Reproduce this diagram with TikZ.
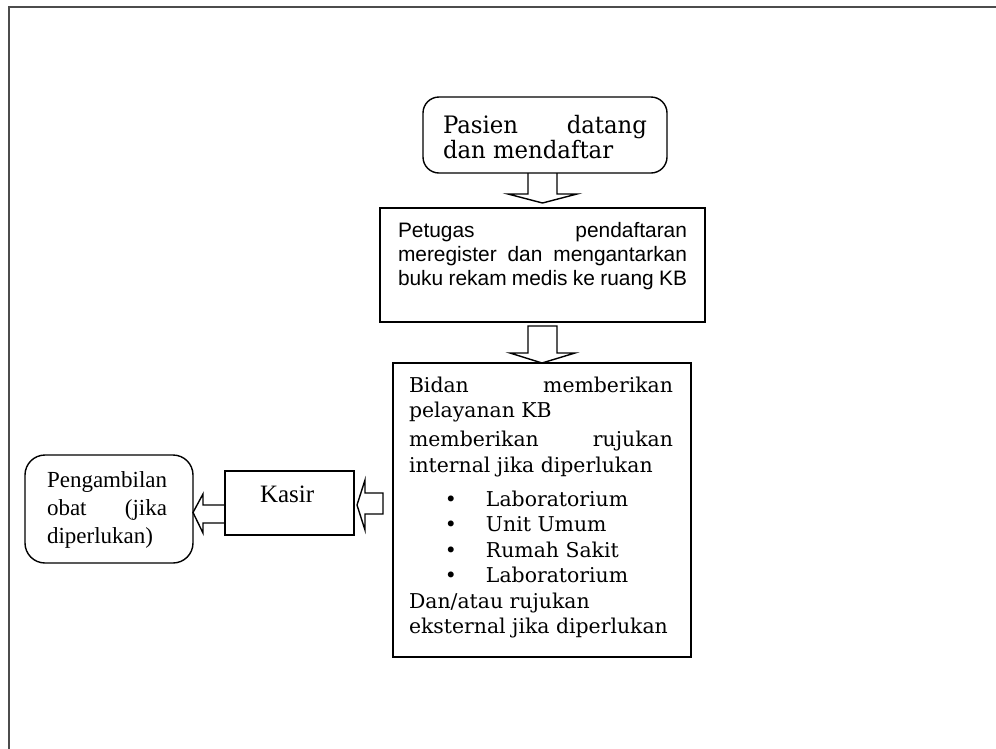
\documentclass[tikz,border=0pt]{standalone}
\usepackage{fontspec}
\setmainfont{Liberation Serif}
\newfontfamily\bookf{DejaVu Serif}
\newfontfamily\bookw[FakeStretch=0.95]{DejaVu Serif}
\newfontfamily\arialf{Liberation Sans}
\usetikzlibrary{calc}
\tikzset{
  box/.style={draw=black, line width=1.4pt, inner sep=0pt, outer sep=0pt},
  rbox/.style={box, rounded corners=16pt},
  txt/.style={anchor=base west, inner sep=0pt, outer sep=0pt},
  blk/.style={draw=black, line width=1.4pt, line join=miter},
  frame/.style={draw=black!70, line width=2pt}
}
\begin{document}
\begin{tikzpicture}[x=1pt,y=-1pt]
\useasboundingbox (0,0) rectangle (996,748);
\draw[frame] (9,749) -- (9,7) -- (997,7);

% boxes
\node[rbox, minimum width=244pt, minimum height=76pt] (b1) at (545,135) {};
\node[box, minimum width=325pt, minimum height=114pt] (b2) at (542.5,265) {};
\node[box, minimum width=298pt, minimum height=294pt] (b3) at (542,510) {};
\node[box, minimum width=129pt, minimum height=64pt] (k) at (289.5,503) {};
\node[rbox, rounded corners=20pt, minimum width=168pt, minimum height=108pt] (p) at (109,509) {};

% texts
\node[txt] (t1) at (443,133) {\parbox[t]{204pt}{\bookw\fontsize{24}{25}\selectfont
Pasien datang\linebreak dan mendaftar}};
\node[txt] (t2) at (398,237) {\parbox[t]{289pt}{\arialf\fontsize{20.9}{24}\selectfont
Petugas pendaftaran\linebreak meregister dan mengantarkan\linebreak buku rekam medis ke ruang KB}};
\node[txt] (t3) at (409,392) {\parbox[t]{264pt}{\bookf\fontsize{20.4}{25.5}\selectfont
Bidan memberikan\linebreak pelayanan KB\par\vspace{3.5pt}
memberikan rujukan\linebreak internal jika diperlukan\par\vspace{8.5pt}
\hspace*{42pt}\makebox[0pt]{\textbullet}\hspace*{35pt}Laboratorium\par
\hspace*{42pt}\makebox[0pt]{\textbullet}\hspace*{35pt}Unit Umum\par
\hspace*{42pt}\makebox[0pt]{\textbullet}\hspace*{35pt}Rumah Sakit\par
\hspace*{42pt}\makebox[0pt]{\textbullet}\hspace*{35pt}Laboratorium\par
Dan/atau rujukan\par
eksternal jika diperlukan}};
\node[txt] (tk) at (260,502) {\fontsize{25}{28}\selectfont Kasir};
\node[txt] (tp) at (47,487) {\parbox[t]{120pt}{\fontsize{23}{28}\selectfont
Pengambilan\linebreak obat (jika\linebreak diperlukan)}};

% block arrows
\draw[blk] ($(b1.south)+(-17,0)$) -- ($(b1.south)+(-17,21)$) -- ($(b1.south)+(-37,21)$)
  -- ($(b1.south)+(-2.5,30)$) -- ($(b1.south)+(32,21)$) -- ($(b1.south)+(12,21)$) -- ($(b1.south)+(12,0)$);
\draw[blk] ($(b3.north)+(-14,-37)$) -- ($(b3.north)+(-14,-10)$) -- ($(b3.north)+(-32,-10)$)
  -- (b3.north) -- ($(b3.north)+(33,-10)$) -- ($(b3.north)+(15,-10)$) -- ($(b3.north)+(15,-37)$) -- cycle;
\draw[blk] ($(b3.west)+(-10,-17)$) -- ($(b3.west)+(-28,-17)$) -- ($(b3.west)+(-28,-30)$)
  -- ($(b3.west)+(-36,-5)$) -- ($(b3.west)+(-28,20)$) -- ($(b3.west)+(-28,4)$) -- ($(b3.west)+(-10,4)$) -- cycle;
\draw[blk] ($(k.west)+(0,2)$) -- ($(k.west)+(-22,2)$) -- ($(k.west)+(-22,-9)$)
  -- ($(k.west)+(-32,9.5)$) -- ($(k.west)+(-22,30)$) -- ($(k.west)+(-22,20)$) -- ($(k.west)+(0,20)$);
\end{tikzpicture}
\end{document}
